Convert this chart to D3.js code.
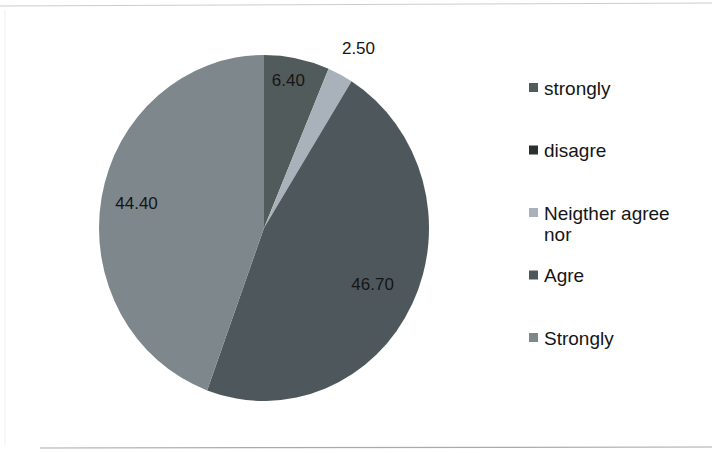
<!DOCTYPE html>
<html>
<head>
<meta charset="utf-8">
<script src="https://cdn.jsdelivr.net/npm/d3@7"></script>
<style>
  body { margin: 0; background: #fff; }
  svg text { font-family: "Liberation Sans", Arial, sans-serif; fill: #151515; }
</style>
</head>
<body>
<svg id="chart" width="712" height="453"></svg>
<script>
// chart data
var categories = ["strongly", "disagre", "Neigther agree nor", "Agre", "Strongly"];
var values = [6.40, 0, 2.50, 46.70, 44.40];
var colors = ["#525b5c", "#2b3031", "#a9b2ba", "#4e585c", "#7e878b"];

var width = 712,
    height = 453,
    cx = 264,
    cy = 228,
    r = 170,
    sx = 165 / r,
    sy = 173 / r;

var svg = d3.select("#chart");

// faint scan border
svg.append("line").attr("x1", 0).attr("x2", width).attr("y1", 6).attr("y2", 3)
    .attr("stroke", "#ccc").attr("stroke-width", 1);
svg.append("line").attr("x1", 40).attr("x2", width).attr("y1", 448).attr("y2", 447)
    .attr("stroke", "#aaa").attr("stroke-width", 1.2);
svg.append("line").attr("x1", 5).attr("x2", 5).attr("y1", 10).attr("y2", 445)
    .attr("stroke", "#eee").attr("stroke-width", 1);

var pie = d3.pie().sort(null).value(function(d) { return d; });
var arcs = pie(values);

var arc = d3.arc().innerRadius(0).outerRadius(r);

var g = svg.append("g")
    .attr("transform", "translate(" + cx + "," + cy + ") scale(" + sx + "," + sy + ")");

g.selectAll("path")
    .data(arcs)
    .enter().append("path")
    .attr("d", arc)
    .attr("fill", function(d, i) { return colors[i]; });

// data labels
function labelFactor(v) {
    if (v < 5) return 1.16;
    if (v < 10) return 0.86;
    return 0.76;
}

svg.selectAll("text.val")
    .data(arcs.filter(function(d) { return d.value > 0; }))
    .enter().append("text")
    .attr("class", "val")
    .attr("x", function(d) {
        var a = (d.startAngle + d.endAngle) / 2;
        return cx + Math.sin(a) * r * sx * labelFactor(d.value) + (d.value < 5 ? 6 : -4);
    })
    .attr("y", function(d) {
        var a = (d.startAngle + d.endAngle) / 2;
        return cy - Math.cos(a) * r * sy * labelFactor(d.value) - 2;
    })
    .attr("dy", "0.35em")
    .attr("text-anchor", "middle")
    .style("font-size", "17px")
    .text(function(d) { return d.value.toFixed(2); });

// legend
var legendY = d3.scalePoint().domain(categories).range([88, 338]);

var legend = svg.selectAll("g.legend")
    .data(categories)
    .enter().append("g")
    .attr("class", "legend")
    .attr("transform", function(d) { return "translate(529," + legendY(d) + ")"; });

legend.append("rect")
    .attr("x", 0).attr("y", -5)
    .attr("width", 9).attr("height", 9)
    .attr("fill", function(d, i) { return colors[i]; });

legend.append("text")
    .style("font-size", "19px")
    .each(function(d) {
        var t = d3.select(this);
        var words = d === "Neigther agree nor" ? ["Neigther agree", "nor"] : [d];
        words.forEach(function(w, k) {
            t.append("tspan").attr("x", 15).attr("dy", k === 0 ? "0.35em" : "1.1em").text(w);
        });
    });
</script>
</body>
</html>
